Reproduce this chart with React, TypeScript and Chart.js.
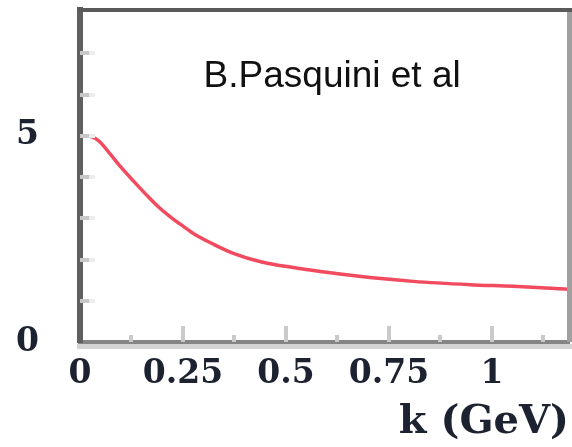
import React, { useEffect, useRef } from 'react';
import { Chart, registerables } from 'chart.js';

Chart.register(...registerables);

// photon momentum k (GeV)
const kValues = [0, 0.012, 0.044, 0.073, 0.101, 0.13, 0.16, 0.19, 0.22, 0.25, 0.28, 0.32, 0.372, 0.441, 0.514, 0.583, 0.672, 0.809, 0.947, 1.052, 1.187];
// curve values
const curveValues = [5.0, 5.0, 4.89, 4.56, 4.22, 3.9, 3.58, 3.28, 3.03, 2.81, 2.6, 2.39, 2.15, 1.94, 1.81, 1.71, 1.6, 1.47, 1.39, 1.35, 1.28];

const xLabelValues = [0, 0.25, 0.5, 0.75, 1];
const yLabelValues = [0, 5];
const xMajorTicks = [0.25, 0.5, 0.75, 1];
const xMinorTicks = [0.125, 0.375, 0.625, 0.875, 1.125];
const yMinorTicks = [1, 2, 3, 4, 5, 6, 7];
const annotationText = 'B.Pasquini et al';
const annotationAnchor = [0.3, 6.19];
const xTitle = 'k (GeV)';

const framePlugin = {
  id: 'frame',
  afterDatasetsDraw(chart: any) {
    const { ctx, chartArea, scales } = chart;
    const { left, right, top, bottom } = chartArea;
    const x = scales.x;
    const y = scales.y;
    ctx.save();
    // light band under the x axis
    ctx.fillStyle = '#d4d4d4';
    ctx.fillRect(left - 3, bottom + 2, chart.width - left + 3, 5);
    // inner ticks
    ctx.lineWidth = 4;
    ctx.lineCap = 'butt';
    const seg = (x1: number, y1: number, x2: number, y2: number, color: string) => {
      ctx.strokeStyle = color;
      ctx.beginPath();
      ctx.moveTo(x1, y1);
      ctx.lineTo(x2, y2);
      ctx.stroke();
    };
    xMajorTicks.forEach((v) => {
      const px = Math.round(x.getPixelForValue(v));
      seg(px, bottom, px, bottom - 16, '#cacaca');
    });
    xMinorTicks.forEach((v) => {
      const px = Math.round(x.getPixelForValue(v));
      seg(px, bottom, px, bottom - 7, '#cacaca');
    });
    yMinorTicks.forEach((v) => {
      const py = Math.round(y.getPixelForValue(v));
      seg(left, py, left + 9, py, '#c8c8c8');
      seg(left + 9, py, left + 15, py, '#ececec');
    });
    // top and right frame
    ctx.fillStyle = '#5a5a5a';
    ctx.fillRect(left - 3, top - 2, chart.width - left + 3, 4);
    ctx.fillStyle = '#a0a0a0';
    ctx.fillRect(right - 2, top + 2, 5, bottom - top - 2);
    // annotation
    ctx.fillStyle = '#111111';
    ctx.font = '37px "Liberation Sans", Arial, sans-serif';
    ctx.textBaseline = 'alphabetic';
    ctx.textAlign = 'left';
    ctx.fillText(annotationText, x.getPixelForValue(annotationAnchor[0]), y.getPixelForValue(annotationAnchor[1]));
    ctx.restore();
  },
};

export default function App() {
  const ref = useRef<HTMLCanvasElement | null>(null);
  useEffect(() => {
    if (!ref.current) return;
    const labelFont = { family: '"DejaVu Serif", serif', size: 33, weight: 'bold' as const };
    const chart = new Chart(ref.current, {
      type: 'line',
      data: {
        datasets: [
          {
            data: kValues.map((k, i) => ({ x: k, y: curveValues[i] })),
            borderColor: '#f24a5e',
            borderWidth: 3.5,
            pointRadius: 0,
            fill: false,
            cubicInterpolationMode: 'monotone',
          },
        ],
      },
      options: {
        animation: false,
        responsive: false,
        devicePixelRatio: 1,
        layout: { padding: { top: 10, right: 3, left: 0, bottom: 0 } },
        plugins: { legend: { display: false }, tooltip: { enabled: false } },
        scales: {
          x: {
            type: 'linear',
            min: 0,
            max: 1.187,
            grid: { display: false, drawTicks: false },
            border: { display: true, color: '#858585', width: 4 },
            ticks: {
              stepSize: 0.125,
              autoSkip: false,
              includeBounds: false,
              maxRotation: 0,
              padding: 13,
              color: '#1c2230',
              font: labelFont,
              callback: (v: any) => (xLabelValues.some((l) => Math.abs(l - v) < 1e-6) ? String(Number(v)) : ''),
            },
            title: {
              display: true,
              text: xTitle,
              align: 'end',
              color: '#1c2230',
              font: { family: '"DejaVu Serif", serif', size: 40, weight: 'bold' },
              padding: { top: 0, bottom: 0 },
            },
            afterFit: (s: any) => {
              s.height = 105;
              s.paddingLeft = 0;
              s.paddingRight = 0;
            },
          },
          y: {
            type: 'linear',
            min: 0,
            max: 8.05,
            grid: { display: false, drawTicks: false },
            border: { display: true, color: '#5f5f5f', width: 6 },
            ticks: {
              stepSize: 1,
              autoSkip: false,
              includeBounds: false,
              padding: 41,
              color: '#1c2230',
              font: labelFont,
              callback: (v: any) => (yLabelValues.some((l) => Math.abs(l - v) < 1e-6) ? String(Number(v)) : ''),
            },
            afterFit: (s: any) => {
              s.width = 80;
              s.paddingTop = 0;
              s.paddingBottom = 0;
            },
          },
        },
      },
      plugins: [framePlugin],
    });
    return () => chart.destroy();
  }, []);
  return (
    <div style={{ position: 'fixed', left: 0, top: 0, width: 572, height: 447, background: '#ffffff' }}>
      <canvas ref={ref} width={572} height={447} style={{ display: 'block' }} />
    </div>
  );
}
